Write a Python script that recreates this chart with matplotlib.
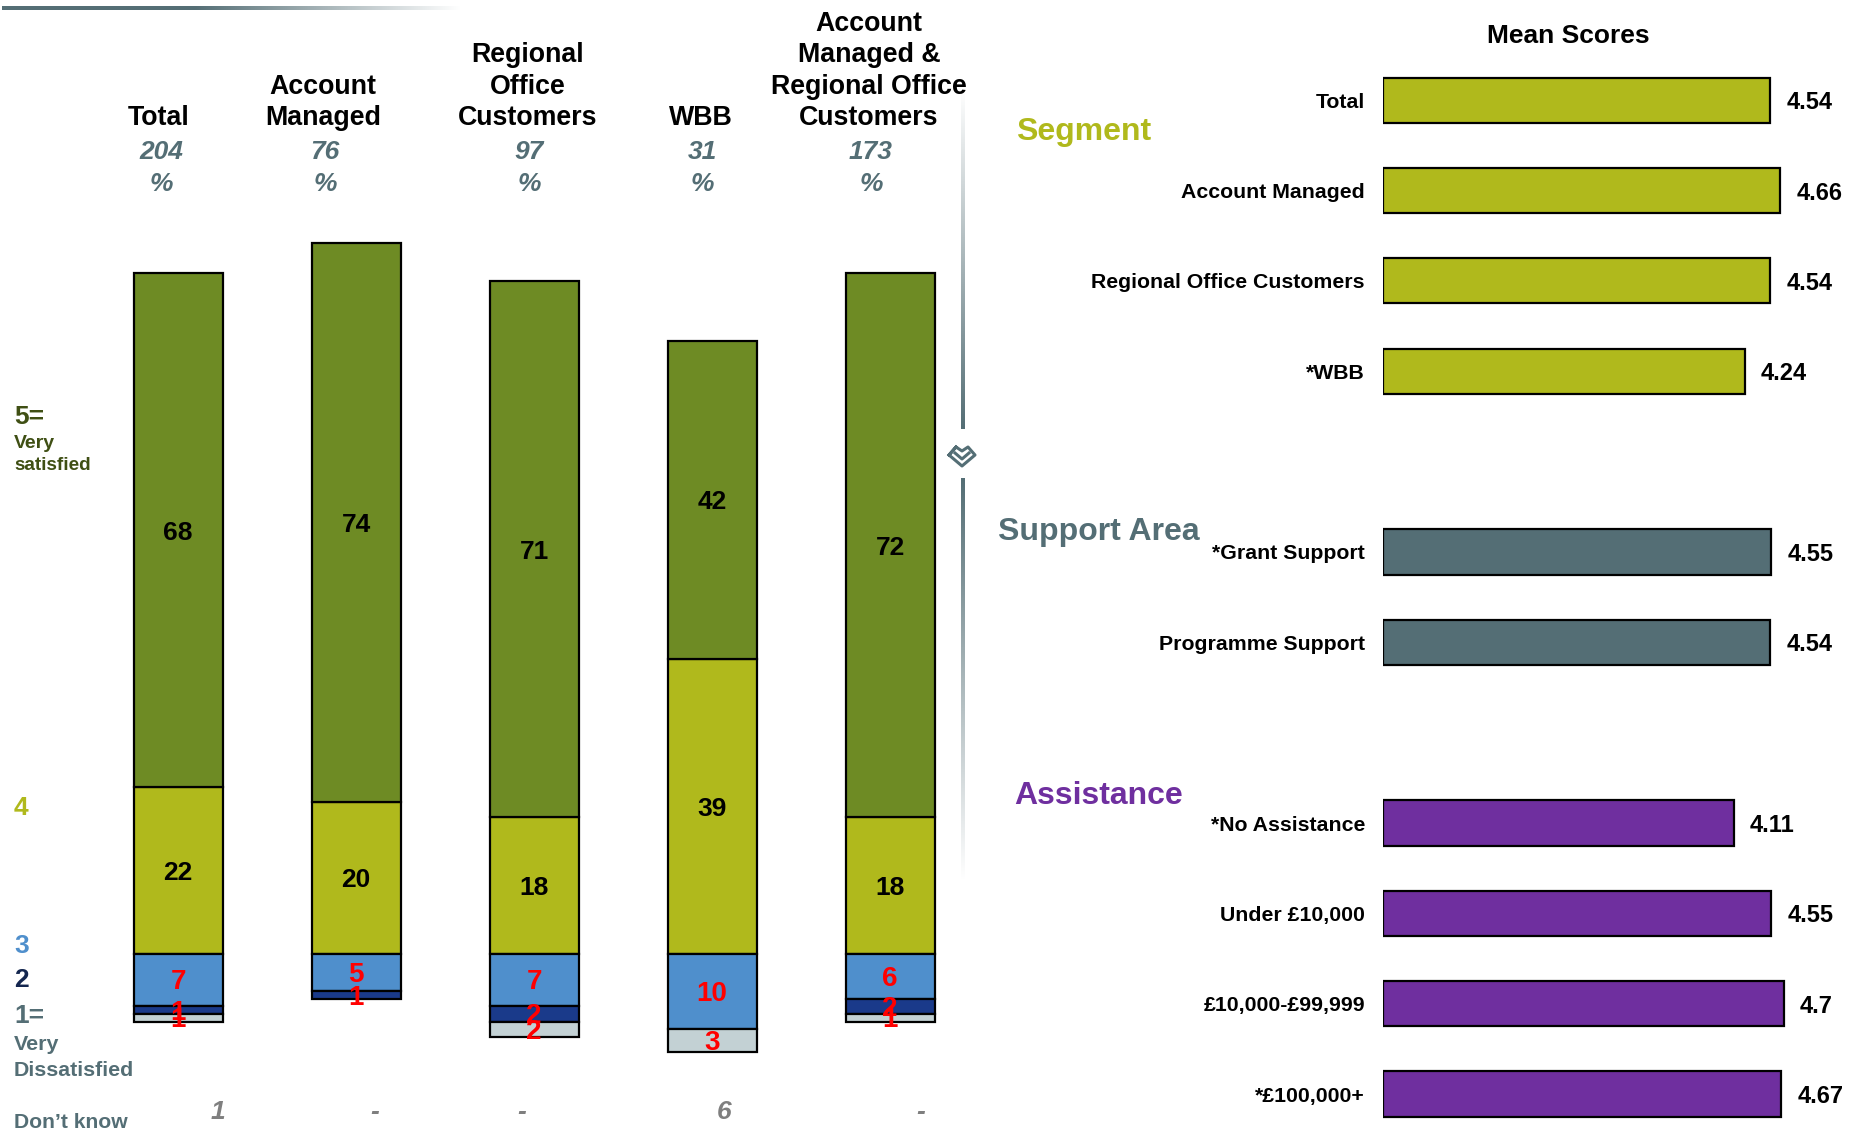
import numpy as np
import matplotlib
matplotlib.use("Agg")
import matplotlib.pyplot as plt
from matplotlib.colors import LinearSegmentedColormap

plt.rcParams['font.family'] = ['Liberation Sans', 'DejaVu Sans']
plt.rcParams['font.weight'] = 'bold'

# stacked columns, % per rating
groups = ["Total", "Account\nManaged", "Regional\nOffice\nCustomers", "WBB",
          "Account\nManaged &\nRegional Office\nCustomers"]
base_n = ["204", "76", "97", "31", "173"]
dont_know = ["1", "-", "-", "6", "-"]
rate5 = [68, 74, 71, 42, 72]
rate4 = [22, 20, 18, 39, 18]
rate3 = [7, 5, 7, 10, 6]
rate2 = [1, 1, 2, 0, 2]
rate1 = [1, 0, 2, 3, 1]

# mean scores, blanks are the gaps between the sections
mean_names = ["Total", "Account Managed", "Regional Office Customers", "*WBB", "",
              "*Grant Support", "Programme Support", "",
              "*No Assistance", "Under £10,000", "£10,000-£99,999", "*£100,000+"]
mean_vals = [4.54, 4.66, 4.54, 4.24, None, 4.55, 4.54, None, 4.11, 4.55, 4.7, 4.67]
mean_lbls = ["4.54", "4.66", "4.54", "4.24", "", "4.55", "4.54", "", "4.11", "4.55", "4.7", "4.67"]

OLIVE = "#6e8b24"
LIME = "#b0b91c"
BLUE = "#4f8fcc"
NAVY = "#1a3a8a"
PALE = "#c3d1d4"
SLATE = "#546e75"
PURPLE = "#6f2f9f"
mean_cols = [LIME] * 5 + [SLATE] * 3 + [PURPLE] * 4

W, H = 1860, 1135
fig = plt.figure(figsize=(W / 100, H / 100), dpi=100, facecolor="white")

# overlay in pixel coords for the loose text
over = fig.add_axes([0, 0, 1, 1], zorder=5)
over.set_xlim(0, W)
over.set_ylim(H, 0)
over.axis("off")
over.patch.set_alpha(0)

# left chart
unit = 7.56
zero_y = 953.5
ax = fig.add_axes([0, 0, 960 / W, 1])
ax.set_xlim(-178.0 / 178.0, (960 - 178.0) / 178.0)
ax.set_ylim((zero_y - H) / unit, zero_y / unit)
ax.axis("off")
x = np.arange(len(groups))
nudge = 2.5 / unit  # text sits a touch low in the original
kw = dict(width=0.5, edgecolor="black", linewidth=1.6)
ax.bar(x, rate4, color=LIME, **kw)
ax.bar(x, rate5, bottom=rate4, color=OLIVE, **kw)
neg = np.zeros(len(groups))
for vals, col in [(rate3, BLUE), (rate2, NAVY), (rate1, PALE)]:
    vals = np.array(vals)
    keep = vals > 0
    ax.bar(x[keep], -vals[keep], bottom=neg[keep], color=col, **kw)
    for i in x[keep]:
        ax.text(i, neg[i] - vals[i] / 2 - nudge, str(vals[i]), color="#ff0000", fontsize=20,
                ha="center", va="center", zorder=6)
    neg = neg - vals
for i in x:
    ax.text(i, rate4[i] / 2 - nudge, str(rate4[i]), fontsize=19, ha="center", va="center")
    ax.text(i, rate4[i] + rate5[i] / 2 - nudge, str(rate5[i]), fontsize=19, ha="center", va="center")

# column headers
head_x = [159, 323, 528, 701, 869]
n_x = [161, 325, 529, 702, 871]
for hx, nx, g, n in zip(head_x, n_x, groups, base_n):
    over.text(hx, 131, g, fontsize=19.3, ha="center", va="bottom", linespacing=1.27)
    over.text(nx, 152, n, fontsize=19, style="italic", color=SLATE, ha="center", va="center")
    over.text(nx, 184, "%", fontsize=19, style="italic", color=SLATE, ha="center", va="center")
for dx, d in zip([218, 375, 522, 724, 921], dont_know):
    over.text(dx, 1112, d, fontsize=19, style="italic", color="#7f7f7f", ha="center", va="center")

# scale labels at the left
scale_labels = [("5=", 417, 19, "#3f4f14"), ("Very", 443, 14, "#3f4f14"),
                ("satisfied", 466, 13.6, "#3f4f14"), ("4", 808, 19, LIME),
                ("3", 946, 19, BLUE), ("2", 980, 19, "#14264f"),
                ("1=", 1016, 19, SLATE), ("Very", 1045, 15.4, SLATE),
                ("Dissatisfied", 1070, 15.4, SLATE), ("Don’t know", 1123, 15.2, SLATE)]
for txt, yy, fs, col in scale_labels:
    over.text(14, yy, txt, fontsize=fs, color=col, ha="left", va="center")

# top rule fading out
fade = LinearSegmentedColormap.from_list("fade", [(0, SLATE), (0.42, SLATE), (1, "white")])
over.imshow(np.linspace(0, 1, 256)[None, :], cmap=fade, extent=[2, 460, 10, 6], aspect="auto", zorder=1)

# divider and the small logo
fade_v = LinearSegmentedColormap.from_list("fade_v", ["white", SLATE])
over.imshow(np.linspace(0, 1, 256)[:, None], cmap=fade_v, extent=[960.5, 964, 429, 90], aspect="auto", zorder=1)
over.imshow(np.linspace(1, 0, 256)[:, None], cmap=fade_v, extent=[960.5, 964, 880, 478], aspect="auto", zorder=1)
over.set_xlim(0, W)
over.set_ylim(H, 0)
over.plot([949, 956, 962, 968, 975, 962, 949, 956], [455, 447, 451, 447, 455, 466, 455, 447],
          color=SLATE, lw=2.2, solid_joinstyle="round")
over.plot([955, 962, 969], [453, 459, 453], color=SLATE, lw=2.2)

# right chart
left_px = 1383
slot = 90.35
ax2 = fig.add_axes([left_px / W, 0, (W - left_px) / W, 1])
ax2.set_xlim(0, (W - left_px) / 85.3)
ax2.set_ylim((H - 100.2) / slot, -100.2 / slot)
slots = np.arange(len(mean_names))
real = [i for i in slots if mean_vals[i] is not None]
ax2.barh(real, [mean_vals[i] for i in real], height=0.5, color=[mean_cols[i] for i in real],
         edgecolor="black", linewidth=1.6)
for i in real:
    ax2.text(mean_vals[i] + 0.19, i + 2.5 / slot, mean_lbls[i], fontsize=17, ha="left", va="center")
ax2.set_yticks(real)
ax2.set_yticklabels([mean_names[i] for i in real], fontsize=15.3)
ax2.tick_params(axis="y", length=0, pad=13)
ax2.set_xticks([])
for s in ax2.spines.values():
    s.set_visible(False)
ax2.patch.set_alpha(0)

over.text(1568, 36, "Mean Scores", fontsize=19, ha="center", va="center")
over.text(1016, 132, "Segment", fontsize=23, color=LIME, ha="left", va="center")
over.text(998, 532, "Support Area", fontsize=23, color=SLATE, ha="left", va="center")
over.text(1014, 796, "Assistance", fontsize=23, color=PURPLE, ha="left", va="center")

fig.savefig("out.png", dpi=100)
